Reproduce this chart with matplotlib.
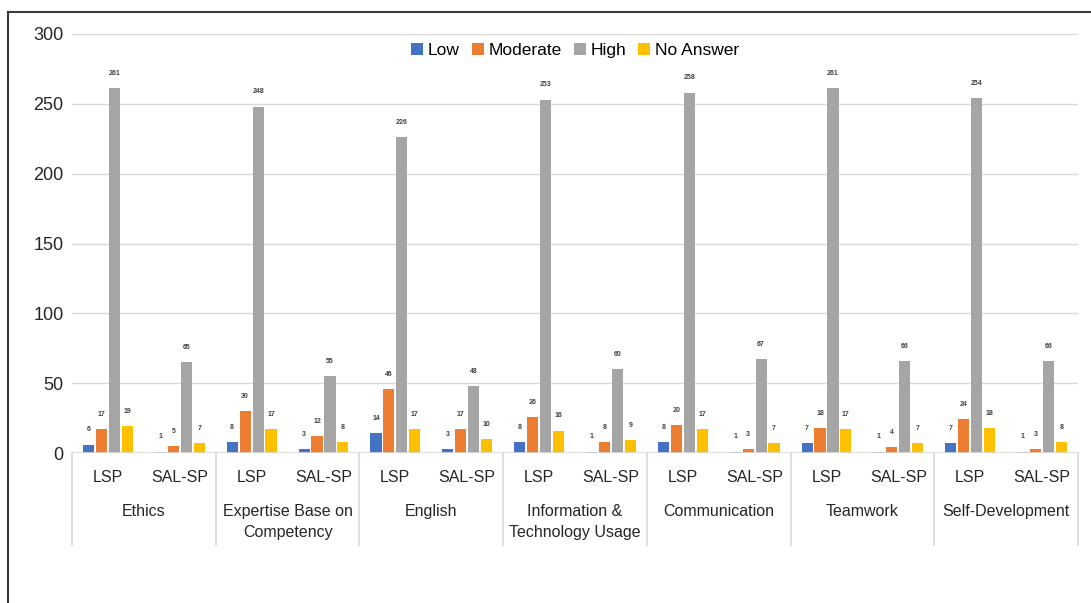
import matplotlib

matplotlib.use("Agg")
import matplotlib.pyplot as plt
import matplotlib.transforms as mtransforms
from matplotlib.lines import Line2D
import numpy as np

GROUPS = ["Ethics", "Expertise Base on\nCompetency", "English",
          "Information &\nTechnology Usage", "Communication", "Teamwork",
          "Self-Development"]
SUBS = ["LSP", "SAL-SP"]
SERIES = ["Low", "Moderate", "High", "No Answer"]

# values per subcategory, ordered Ethics LSP, Ethics SAL-SP, Expertise LSP, ...
LOW = [6, 1, 8, 3, 14, 3, 8, 1, 8, 1, 7, 1, 7, 1]
MODERATE = [17, 5, 30, 12, 46, 17, 26, 8, 20, 3, 18, 4, 24, 3]
HIGH = [261, 65, 248, 55, 226, 48, 253, 60, 258, 67, 261, 66, 254, 66]
NO_ANSWER = [19, 7, 17, 8, 17, 10, 16, 9, 17, 7, 17, 7, 18, 8]

COLORS = ["#4472C4", "#ED7D31", "#A5A5A5", "#FFC000"]

plt.rcParams["font.family"] = ["Liberation Sans", "DejaVu Sans"]

W, H = 1091, 603
fig = plt.figure(figsize=(W / 100, H / 100), dpi=100)
ax = fig.add_axes([72 / W, 1 - 453 / H, (1078 - 72) / W, (453 - 34) / H])

n = len(HIGH)
x = np.arange(n) + 0.5
width = 0.155
step = 0.18
offsets = np.array([-1.5, -0.5, 0.5, 1.5]) * step

for vals, col, lab, off in zip([LOW, MODERATE, HIGH, NO_ANSWER], COLORS, SERIES, offsets):
    bars = ax.bar(x + off, vals, width=width, color=col, label=lab, zorder=3)
    for b, v in zip(bars, vals):
        ax.text(b.get_x() + b.get_width() / 2, v + 8, str(v), ha="center",
                va="bottom", fontsize=5, color="#404040", fontweight="bold")

ax.set_xlim(0, n)
ax.set_ylim(0, 300)
ax.set_yticks(range(0, 301, 50))
ax.tick_params(axis="y", length=0, labelsize=13, pad=6, labelcolor="#262626")
ax.yaxis.grid(True, color="#D9D9D9", linewidth=1.0, zorder=0)
for s in ax.spines.values():
    s.set_visible(False)
ax.axhline(0, color="#D9D9D9", linewidth=1.2, zorder=4)

# two-level category axis
ax.set_xticks([])
trans = mtransforms.blended_transform_factory(ax.transData, ax.transAxes)
px = 1 / (453 - 34)
for g in range(len(GROUPS) + 1):
    ax.add_line(Line2D([2 * g, 2 * g], [0, -92 * px], transform=trans,
                       color="#D9D9D9", linewidth=1.2, clip_on=False))
for i in range(n):
    ax.text(x[i], -24 * px, SUBS[i % 2], transform=trans, ha="center",
            va="center", fontsize=11.5, color="#262626")
for g, name in enumerate(GROUPS):
    ax.text(2 * g + 1, -51 * px, name, transform=trans, ha="center",
            va="top", fontsize=11.5, color="#262626", linespacing=1.5)

ax.legend(loc="upper center", bbox_to_anchor=(0.5, 0.995), ncol=4,
          frameon=False, fontsize=12.5, handlelength=0.7, handleheight=0.7,
          handletextpad=0.25, columnspacing=0.7, borderaxespad=0.0)

# outer frame of the screenshot
fig.add_artist(Line2D([8 / W, 8 / W], [0, 1 - 12 / H], transform=fig.transFigure,
                      color="#3A3A3A", linewidth=1.5))
fig.add_artist(Line2D([8 / W, 1], [1 - 12 / H, 1 - 12 / H], transform=fig.transFigure,
                      color="#3A3A3A", linewidth=1.5))

fig.savefig("out.png", dpi=100)
